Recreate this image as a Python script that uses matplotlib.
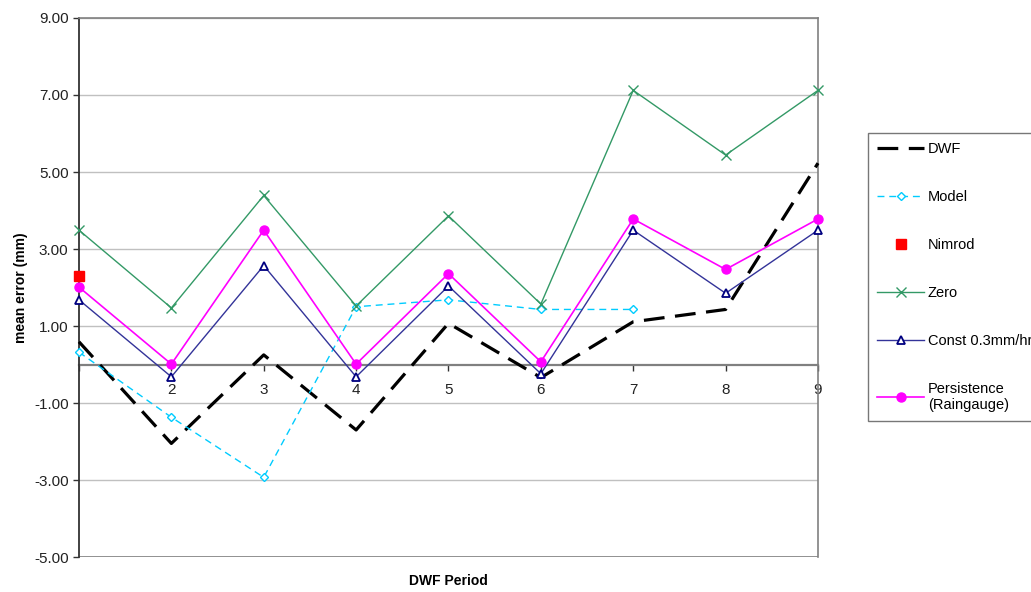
import numpy as np
import matplotlib
matplotlib.use('Agg')
import matplotlib.pyplot as plt

plt.rcParams['font.family'] = ['Liberation Sans', 'DejaVu Sans']

# ==================== data ====================
periods = [1, 2, 3, 4, 5, 6, 7, 8, 9]
dwf = [0.59, -2.05, 0.25, -1.70, 1.07, -0.34, 1.11, 1.43, 5.23]
model = [0.32, -1.37, -2.93, 1.50, 1.68, 1.43, 1.43, np.nan, np.nan]
nimrod = [2.29, np.nan, np.nan, np.nan, np.nan, np.nan, np.nan, np.nan, np.nan]
zero = [3.49, 1.47, 4.39, 1.52, 3.86, 1.57, 7.12, 5.44, 7.12]
const = [1.68, -0.32, 2.57, -0.32, 2.04, -0.24, 3.49, 1.85, 3.49]
persistence = [2.01, 0.01, 3.49, 0.01, 2.36, 0.07, 3.78, 2.47, 3.78]

x_labels = ['', '2', '3', '4', '5', '6', '7', '8', '9']
y_ticks = [-5, -3, -1, 1, 3, 5, 7, 9]

# ==================== figure ====================
fig = plt.figure(figsize=(10.31, 5.92), dpi=100)
ax = fig.add_axes([0.0766, 0.0591, 0.7168, 0.9105])

ax.set_xlim(1, 9)
ax.set_ylim(-5, 9)

# grid + frame
for yv in y_ticks:
    ax.axhline(yv, color='#c0c0c0', linewidth=1.0, zorder=0)
ax.axhline(-5, color='#808080', linewidth=1.2, zorder=1)

ax.plot(periods, dwf, color='black', linewidth=2.3, dashes=(6.5, 3.3), label='DWF',
        zorder=3, clip_on=False)
ax.plot(periods, model, color='#00ccff', linewidth=1.0, dashes=(5, 3.5),
        marker='D', markersize=4.5, markerfacecolor='white', markeredgecolor='#00ccff',
        markeredgewidth=1.0, label='Model', zorder=3, clip_on=False)
ax.plot(periods, nimrod, linestyle='none', marker='s', markersize=6.5,
        color='#ff0000', label='Nimrod', zorder=4, clip_on=False)
ax.plot(periods, zero, color='#339966', linewidth=1.0, marker='x', markersize=7,
        markeredgewidth=1.0, label='Zero', zorder=3, clip_on=False)
ax.plot(periods, const, color='#333399', linewidth=1.0, marker='^', markersize=5.5,
        markerfacecolor='white', markeredgecolor='#000080', markeredgewidth=1.3,
        label='Const 0.3mm/hr', zorder=3, clip_on=False)
ax.plot(periods, persistence, color='#ff00ff', linewidth=1.2, marker='o', markersize=6.5,
        label='Persistence\n(Raingauge)', zorder=3, clip_on=False)

# spines
ax.spines['bottom'].set_position(('data', 0))
ax.spines['bottom'].set_color('#808080')
ax.spines['bottom'].set_linewidth(1.6)
ax.spines['bottom'].set_zorder(2)
ax.spines['left'].set_color('#333333')
ax.spines['left'].set_linewidth(1.3)
ax.spines['top'].set_color('#808080')
ax.spines['right'].set_color('#808080')
ax.spines['top'].set_linewidth(1.2)
ax.spines['right'].set_linewidth(1.2)

ax.set_xticks(periods)
ax.set_xticklabels(x_labels)
ax.set_yticks(y_ticks)
ax.set_yticklabels([f'{v:.2f}' for v in y_ticks])
ax.tick_params(axis='both', direction='out', length=4, width=1, color='#333333',
               labelsize=11, labelcolor='#222222')
ax.tick_params(axis='x', pad=9)

ax.text(-0.078, 0.5, 'mean error (mm)', transform=ax.transAxes, rotation=90,
        ha='center', va='center', fontsize=10, fontweight='bold')
ax.text(0.5, -0.045, 'DWF Period', transform=ax.transAxes,
        ha='center', va='center', fontsize=10, fontweight='bold')

leg = fig.legend(loc='upper left', bbox_to_anchor=(868 / 1031, 1 - 133 / 592),
                 frameon=True, fancybox=False, fontsize=10.5, handlelength=3.2,
                 handletextpad=0.25, labelspacing=2.32, borderpad=0.65,
                 borderaxespad=0)
leg.get_frame().set_edgecolor('#555555')
leg.get_frame().set_linewidth(1.0)

fig.savefig('out.png', dpi=100)
